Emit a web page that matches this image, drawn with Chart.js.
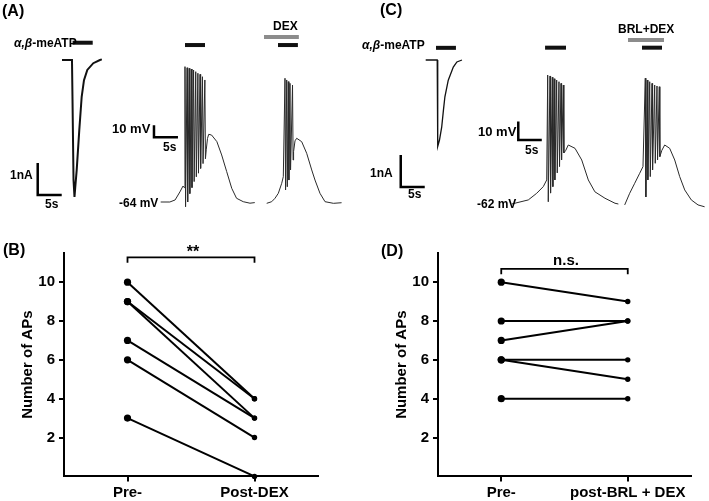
<!DOCTYPE html>
<html>
<head>
<meta charset="utf-8">
<script src="https://cdn.jsdelivr.net/npm/chart.js@4.4.1/dist/chart.umd.min.js"></script>
<style>
body { margin: 0; background: #fff; }
#fig { position: relative; width: 709px; height: 501px; overflow: hidden;
       font-family: "Liberation Sans", Arial, sans-serif; font-weight: bold; color: #000; }
canvas { position: absolute; }
.t { position: absolute; white-space: nowrap; font-size: 12px; line-height: 1; transform: translateY(-50%); }
.c { transform: translate(-50%, -50%); }
.p { font-size: 16px; }
</style>
</head>
<body>
<div id="fig">
  <canvas id="topA" width="355" height="215" style="left:0;top:0"></canvas>
  <canvas id="topC" width="354" height="215" style="left:355px;top:0"></canvas>
  <canvas id="chartB" width="330" height="281" style="left:0;top:220px"></canvas>
  <canvas id="chartD" width="335" height="281" style="left:374px;top:220px"></canvas>

  <div class="t p" style="left:2px;top:11px">(A)</div>
  <div class="t" style="left:14px;top:43px"><i>α,β</i>-meATP</div>
  <div class="t" style="left:10px;top:175px">1nA</div>
  <div class="t" style="left:45px;top:204px">5s</div>
  <div class="t" style="left:112px;top:128px;font-size:13px">10 mV</div>
  <div class="t" style="left:163px;top:147px">5s</div>
  <div class="t" style="left:119px;top:203px">-64 mV</div>
  <div class="t" style="left:273px;top:26px">DEX</div>

  <div class="t p" style="left:380px;top:10px">(C)</div>
  <div class="t" style="left:362px;top:45px"><i>α,β</i>-meATP</div>
  <div class="t" style="left:370px;top:173px">1nA</div>
  <div class="t" style="left:408px;top:194px">5s</div>
  <div class="t" style="left:478px;top:131px;font-size:13px">10 mV</div>
  <div class="t" style="left:525px;top:150px">5s</div>
  <div class="t" style="left:477px;top:204px">-62 mV</div>
  <div class="t" style="left:618px;top:29px">BRL+DEX</div>

  <div class="t p" style="left:3px;top:250px">(B)</div>
  <div class="t c" style="left:193px;top:252px;font-size:16px">**</div>
  <div class="t p" style="left:381px;top:251px">(D)</div>
  <div class="t c" style="left:566px;top:259px;font-size:15px">n.s.</div>
</div>

<script>
// ---- (B) and (D): number of APs, paired per cell ----
const groupsB = ['Pre-', 'Post-DEX'];
const groupsD = ['Pre-', 'post-BRL + DEX'];
const apsPreB = [10, 9, 9, 7, 6, 3];
const apsPostB = [4, 4, 3, 3, 2, 0];
const apsPreD = [10, 8, 7, 6, 6, 4];
const apsPostD = [9, 8, 8, 6, 5, 4];
const yTicks = [2, 4, 6, 8, 10];

// ---- (A) and (C): recordings, time in s, current in nA, voltage in mV ----
const currentA = [[0,0],[2.08,0],[2.19,-1.25],[2.4,-3.75],[2.6,-4.28],[2.75,-4.0],[3.06,-3.44],[3.6,-2.19],
                  [4.1,-1.15],[4.58,-0.63],[5.27,-0.31],[6.52,-0.1],[7.9,0],[8.3,0.02]];
const currentC = [[0,0],[2.4,0],[2.45,-1.2],[2.56,-2.7],[2.87,-2.5],[3.33,-2.1],[3.7,-1.56],[4.0,-1.15],
                  [4.7,-0.63],[5.75,-0.22],[6.5,-0.06],[7.56,0]];

// control response (A)
const vA1Pre = [[0,-64],[1.9,-64],[3.0,-62.3],[4.0,-55.6],[4.65,-50.7],[4.9,-52]];
const vA1SpikeT = [5.06, 5.5, 5.95, 6.4, 6.85, 7.3, 7.75, 8.2, 8.7, 9.2];
const vA1Peak = [48.8, 47.9, 47.4, 46.8, 46, 44.6, 43.3, 42.4, 40.4, 37.7];
const vA1Trough = [-68, -64, -57, -52, -47, -43, -40, -36, -32, -28];
const vA1Post = [[9.5,-20],[9.75,-11],[10.0,-7.6],[10.6,-8.2],[11.7,-13.7],[12.7,-24.8],[13.75,-38.7],
                 [14.8,-52.6],[15.8,-60.9],[17.2,-63.75],[18.6,-65],[19.6,-64.5]];
// with DEX (A)
const vA2Pre = [[0,-65.1],[1.04,-63.75],[1.73,-60.9],[2.42,-56.75],[3.13,-48.4],[3.46,-42.9]];
const vA2SpikeT = [3.81, 4.17, 4.5, 4.85, 5.38];
const vA2Peak = [39.1, 37.7, 36.3, 34.9, 33.5];
const vA2Trough = [-54, -51.3, -45.7, -37.3, -29];
const vA2Post = [[5.6,-22],[5.9,-13],[6.25,-10.9],[7.29,-13.75],[8.33,-23.4],[9.38,-37.3],[10.06,-45.7],
                 [11.1,-56.75],[12.15,-63.75],[13.9,-65.1],[15.6,-64.6]];
// control response (C)
const vC1Pre = [[0,-62],[3.53,-59.8],[5.32,-56.2],[6.72,-52.6],[7.45,-49]];
const vC1SpikeT = [7.66, 8.15, 8.64, 9.06, 9.57, 10.06, 10.49, 10.98];
const vC1Peak = [7.7, 7.2, 6.5, 5.7, 5.0, 4.1, 3.2, 2.3];
const vC1Trough = [-60.8, -56.1, -52.6, -49, -45.2, -41.8, -38.2, -34.4];
const vC1Post = [[11.5,-33],[12.04,-30.1],[13.47,-31.9],[14.9,-38.2],[16.3,-49],[17.7,-55.4],[19.85,-58.9],
                 [21.98,-61.6],[22.7,-62]];
// with BRL + DEX (C)
const vC2Pre = [[0,-62.5],[1.06,-56.2],[2.13,-50.8],[3.19,-45.4],[3.89,-41.8]];
const vC2SpikeT = [4.38, 4.81, 5.32, 5.81, 6.38, 6.87, 7.36];
const vC2Peak = [6, 5, 4.1, 3.2, 2.3, 1.8, 1.4];
const vC2Trough = [-58.2, -49, -47.2, -43.6, -40, -38.2, -36.4];
const vC2Post = [[7.9,-33],[8.51,-30.1],[9.57,-31.9],[10.64,-38.2],[11.7,-47.2],[12.77,-54.4],[14.17,-59.8],
                 [15.6,-62.5],[17.0,-63.5]];

// drug application bars [start s, end s]
const atpA = [2.2, 6.4], atpA1 = [5.06, 9.23], atpA2 = [2.35, 6.5], dexA = [-0.56, 6.7];
const atpC = [2.15, 6.3], atpC1 = [7.1, 11.55], atpC2 = [3.68, 7.94], dexC = [0.7, 8.36];

//Build a spike train trace from its parts
function buildTrace(pre, spikeT, peak, trough, post) {
    var pts = pre.slice();
    spikeT.forEach((t, i) => {
        pts.push([t, peak[i]]);
        pts.push([t + 0.12, trough[i]]);
    });
    return pts.concat(post);
}

function ds(points, xId, yId, width, color, dash) {
    return {
        data: points.map(p => ({x: p[0], y: p[1]})),
        xAxisID: xId, yAxisID: yId,
        borderColor: color || '#111', borderWidth: width,
        borderDash: dash || [], pointRadius: 0, tension: 0,
        fill: false, clip: false
    };
}
function bar(r, y, xId, yId) { return ds([[r[0], y], [r[1], y]], xId, yId, 4); }
function dashBar(r, y, xId, yId) {
    return [ds([[r[0], y], [r[1], y]], xId, yId, 4, '#8c8c8c'),
            ds([[r[0], y], [r[1], y]], xId, yId, 1.6, '#ffffff', [2, 1.5])];
}
function scaleBar(t, v, dt, dv, xId, yId) {
    return ds([[t, v + dv], [t, v], [t + dt, v]], xId, yId, 2.5, '#000');
}

//pixel placement of each trace inside its canvas
function axisRange(l, w, h) {
    return {
        x: {min: -l.x0 / l.px, max: (w - l.x0) / l.px},
        y: {min: l.base - (h - l.y0) / l.py, max: l.base + l.y0 / l.py}
    };
}
function topChart(id, w, h, L, datasets) {
    const rI = axisRange(L.I, w, h), r1 = axisRange(L.V1, w, h), r2 = axisRange(L.V2, w, h);
    const hid = r => Object.assign({type: 'linear', display: false}, r);
    return new Chart(document.getElementById(id), {
        type: 'line',
        data: {datasets: datasets},
        options: {
            responsive: false, animation: false, events: [],
            layout: {padding: 0},
            plugins: {legend: {display: false}, tooltip: {enabled: false}},
            scales: {
                x: {type: 'linear', display: false}, y: {type: 'linear', display: false},
                xI: hid(Object.assign({axis: 'x'}, rI.x)), yI: hid(Object.assign({axis: 'y'}, rI.y)),
                xV1: hid(Object.assign({axis: 'x'}, r1.x)), xV2: hid(Object.assign({axis: 'x'}, r2.x)),
                yV: hid(Object.assign({axis: 'y'}, r1.y))
            }
        }
    });
}

const layoutA = {
    I: {x0: 62, y0: 60, base: 0, px: 4.8, py: 32},
    V1: {x0: 160.7, y0: 202, base: -64, px: 4.8, py: 1.2},
    V2: {x0: 266.7, y0: 202, base: -64, px: 4.8, py: 1.2}
};
const layoutC = {
    I: {x0: 70.7, y0: 60, base: 0, px: 4.8, py: 32},
    V1: {x0: 156.7, y0: 204, base: -62, px: 4.7, py: 1.85},
    V2: {x0: 269.7, y0: 204, base: -62, px: 4.7, py: 1.85}
};

topChart('topA', 355, 215, layoutA, [
    ds(currentA, 'xI', 'yI', 2),
    ds(buildTrace(vA1Pre, vA1SpikeT, vA1Peak, vA1Trough, vA1Post), 'xV1', 'yV', 1, '#2a2a2a'),
    ds(buildTrace(vA2Pre, vA2SpikeT, vA2Peak, vA2Trough, vA2Post), 'xV2', 'yV', 1, '#2a2a2a'),
    bar(atpA, 0.54, 'xI', 'yI'),
    bar(atpA1, 66.8, 'xV1', 'yV'),
    bar(atpA2, 66.8, 'xV2', 'yV'),
    ...dashBar(dexA, 73.5, 'xV2', 'yV'),
    scaleBar(-5.06, -4.22, 5, 1, 'xI', 'yI'),
    scaleBar(-1.4, -10.1, 5, 10, 'xV1', 'yV')
]);

topChart('topC', 354, 215, layoutC, [
    ds(currentC, 'xI', 'yI', 1.3),
    ds(buildTrace(vC1Pre, vC1SpikeT, vC1Peak, vC1Trough, vC1Post), 'xV1', 'yV', 1, '#2a2a2a'),
    ds(buildTrace(vC2Pre, vC2SpikeT, vC2Peak, vC2Trough, vC2Post), 'xV2', 'yV', 1, '#2a2a2a'),
    bar(atpC, 0.38, 'xI', 'yI'),
    bar(atpC1, 22.5, 'xV1', 'yV'),
    bar(atpC2, 22.5, 'xV2', 'yV'),
    ...dashBar(dexC, 26.6, 'xV2', 'yV'),
    scaleBar(-5.2, -3.97, 5, 1, 'xI', 'yI'),
    scaleBar(1.4, -27.4, 5, 10, 'xV1', 'yV')
]);

// ---- paired plots ----
function pairedChart(id, groups, pre, post, bracketY, padRight) {
    var datasets = pre.map((v, i) => ({
        data: [{x: 0.5, y: v}, {x: 1.5, y: post[i]}],
        borderColor: '#000', borderWidth: 2,
        pointRadius: [3.6, 2.7], pointBackgroundColor: '#000', pointBorderWidth: 0,
        tension: 0, clip: false
    }));
    //significance bracket
    datasets.push({
        data: [{x: 0.5, y: bracketY - 0.27}, {x: 0.5, y: bracketY}, {x: 1.5, y: bracketY}, {x: 1.5, y: bracketY - 0.27}],
        borderColor: '#000', borderWidth: 1.8, pointRadius: 0, tension: 0, clip: false
    });
    const tickStyle = {display: true, drawOnChartArea: false, drawTicks: true, tickLength: 5, color: '#000', lineWidth: 2};
    const font = {family: '"Liberation Sans", Arial, sans-serif', weight: 'bold', size: 15};
    return new Chart(document.getElementById(id), {
        type: 'line',
        data: {datasets: datasets},
        options: {
            responsive: false, animation: false, events: [],
            layout: {padding: {left: 0, top: 33, right: padRight, bottom: 0}},
            plugins: {legend: {display: false}, tooltip: {enabled: false}},
            scales: {
                x: {
                    type: 'linear', min: 0, max: 2,
                    afterBuildTicks: s => { s.ticks = [{value: 0.5}, {value: 1.5}]; },
                    afterFit: s => { s.height = 24.6; },
                    ticks: {callback: v => (v === 0.5 ? groups[0] : groups[1]), font: font, color: '#000',
                            maxRotation: 0, autoSkip: false, padding: 2},
                    grid: tickStyle,
                    border: {display: true, color: '#000', width: 2}
                },
                y: {
                    type: 'linear', min: 0, max: 11.5,
                    afterBuildTicks: s => { s.ticks = yTicks.map(v => ({value: v})); },
                    afterFit: s => { s.width = 64; },
                    ticks: {font: font, color: '#000', padding: 4},
                    grid: tickStyle,
                    border: {display: true, color: '#000', width: 2},
                    title: {display: true, text: 'Number of APs', font: font, color: '#000', padding: {top: 19, bottom: 0}}
                }
            }
        }
    });
}

pairedChart('chartB', groupsB, apsPreB, apsPostB, 11.27, 12);
pairedChart('chartD', groupsD, apsPreD, apsPostD, 10.68, 18);
</script>
</body>
</html>
